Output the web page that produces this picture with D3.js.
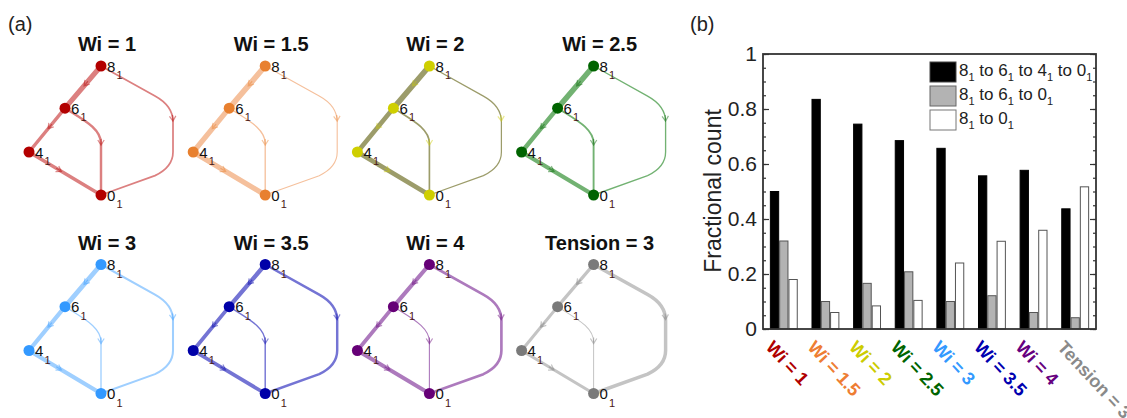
<!DOCTYPE html>
<html><head><meta charset="utf-8">
<script src="https://cdn.jsdelivr.net/npm/d3@7"></script>
<style>html,body{margin:0;padding:0;background:#fff;} svg{display:block;font-family:"Liberation Sans",Arial,sans-serif;}</style>
</head><body><div id="chart"></div>
<script>
// ---------- data ----------
const categories = ["Wi = 1","Wi = 1.5","Wi = 2","Wi = 2.5","Wi = 3","Wi = 3.5","Wi = 4","Tension = 3"];
const path8640 = [0.50,0.835,0.745,0.685,0.657,0.557,0.577,0.437]; // 8_1 to 6_1 to 4_1 to 0_1
const path860  = [0.32,0.10,0.166,0.208,0.10,0.121,0.06,0.041];    // 8_1 to 6_1 to 0_1
const path80   = [0.18,0.06,0.084,0.104,0.24,0.319,0.359,0.517];   // 8_1 to 0_1
const yTicks = [0,0.2,0.4,0.6,0.8,1];
const yTickLabels = ["0","0.2","0.4","0.6","0.8","1"];
const legendLabels = [["8","6","4","0"],["8","6","0"],["8","0"]];
const nodeColors = ["#b30000","#e8802f","#cfcf00","#006400","#3399ff","#0000a8","#660077","#7a7a7a"];
const edgeColors = ["#dc8080","#f5c09c","#9c9c6a","#72b272","#9fcfff","#7474d4","#ad7abd","#c4c4c4"];
const labelColors = ["#b00000","#ee7d33","#cccc00","#006400","#3399ff","#0000b0","#660080","#8a8a8a"];

const W = 1127, H = 418;
const svg = d3.select("#chart").append("svg").attr("width", W).attr("height", H);

// ---------- panel (a): networks ----------
svg.append("text").attr("x", 8).attr("y", 31).attr("font-size", 20).attr("fill", "#222").text("(a)");
svg.append("text").attr("x", 690).attr("y", 31).attr("font-size", 20).attr("fill", "#222").text("(b)");

const ux = d3.scaleLinear().domain([0, 4]).range([29, 173]);
const uy = d3.scaleLinear().domain([0, 3]).range([66, 195]);
const nodes = {"8": [2, 0], "6": [1, 0.98], "4": [0, 2.0], "0": [2, 3]};
const P = k => [ux(nodes[k][0]), uy(nodes[k][1])];

function edgePath(kind) {
  const p = d3.path();
  if (kind === "86" || kind === "64" || kind === "40") {
    const a = P(kind[0]), b = P(kind[1]);
    p.moveTo(a[0], a[1]); p.lineTo(b[0], b[1]);
  } else if (kind === "60") {
    const a = P("6");
    p.moveTo(a[0], a[1]);
    p.bezierCurveTo(ux(1.5), uy(1.25), ux(2), uy(1.45), ux(2), uy(1.8));
    p.lineTo(P("0")[0], P("0")[1]);
  } else {
    const a = P("8");
    p.moveTo(a[0], a[1]);
    p.lineTo(ux(3.5), uy(0.7));
    p.quadraticCurveTo(ux(4), uy(0.93), ux(4), uy(1.3));
    p.lineTo(ux(4), uy(2.0));
    p.quadraticCurveTo(ux(4), uy(2.35), ux(3.5), uy(2.55));
    p.lineTo(P("0")[0], P("0")[1]);
  }
  return p.toString();
}
const arrowFrac = {"86": 0.47, "64": 0.47, "40": 0.45, "60": 0.52, "80": 0.44};

categories.forEach((cat, i) => {
  const col = i % 4, row = Math.floor(i / 4);
  const g = svg.append("g").attr("transform", `translate(${col * 164.2},${row * 198.5})`);
  g.append("text").attr("x", 107).attr("y", 51).attr("text-anchor", "middle")
    .attr("font-size", 20).attr("font-weight", "bold").attr("fill", "#111").text(cat);
  const flows = {"86": path8640[i] + path860[i], "64": path8640[i], "40": path8640[i], "60": path860[i], "80": path80[i]};
  Object.keys(flows).forEach(k => {
    const path = g.append("path").attr("d", edgePath(k)).attr("fill", "none")
      .attr("stroke", edgeColors[i]).attr("stroke-width", 0.8 + 5.2 * flows[k])
      .attr("stroke-linecap", "round").attr("stroke-linejoin", "round");
    const node = path.node();
    const L = node.getTotalLength();
    const s = L * arrowFrac[k];
    const p1 = node.getPointAtLength(s), p0 = node.getPointAtLength(s - 2);
    const ang = Math.atan2(p1.y - p0.y, p1.x - p0.x) * 180 / Math.PI;
    g.append("path").attr("d", "M-5,-3.2L0,0L-5,3.2M0,0L-6,0")
      .attr("transform", `translate(${p1.x},${p1.y}) rotate(${ang})`)
      .attr("fill", "none").attr("stroke", nodeColors[i]).attr("stroke-opacity", 0.45)
      .attr("stroke-width", 1.2);
  });
  Object.keys(nodes).forEach(k => {
    const [cx, cy] = P(k);
    g.append("circle").attr("cx", cx).attr("cy", cy).attr("r", 5.5).attr("fill", nodeColors[i]);
    g.append("text").attr("x", cx + 6).attr("y", cy + 5.5).attr("font-size", 15).attr("fill", "#111").text(k);
    g.append("text").attr("x", cx + 15.5).attr("y", cy + 13).attr("font-size", 11).attr("fill", "#4a1515").text("1");
  });
});

// ---------- panel (b): bar chart ----------
const x = d3.scaleBand().domain(categories).range([763, 1096]).paddingInner(0).paddingOuter(0);
const y = d3.scaleLinear().domain([0, 1]).range([329, 54]);
const bw = x.bandwidth() * 0.67 / 3;
const off = x.bandwidth() * 0.165;

const series = [
  {vals: path8640, fill: "#000", stroke: "#000"},
  {vals: path860, fill: "#b3b3b3", stroke: "#555"},
  {vals: path80, fill: "#fff", stroke: "#555"}
];
series.forEach((s, j) => {
  svg.append("g").selectAll("rect").data(categories).join("rect")
    .attr("x", c => x(c) + off + j * bw + 0.5)
    .attr("y", (c, i) => y(s.vals[i]))
    .attr("width", bw - 1)
    .attr("height", (c, i) => y(0) - y(s.vals[i]))
    .attr("fill", s.fill).attr("stroke", s.stroke).attr("stroke-width", 1);
});

// axes
const minor = d3.range(0, 1.0001, 0.05);
const axL = svg.append("g").attr("transform", "translate(763,0)")
  .call(d3.axisLeft(y).tickValues(yTicks).tickFormat((d, i) => yTickLabels[i]).tickSizeInner(-6).tickSizeOuter(0).tickPadding(6));
svg.append("g").attr("transform", "translate(763,0)")
  .call(d3.axisLeft(y).tickValues(minor).tickFormat("").tickSizeInner(-3).tickSizeOuter(0));
svg.append("g").attr("transform", "translate(1096,0)")
  .call(d3.axisRight(y).tickValues(yTicks).tickFormat("").tickSizeInner(-6).tickSizeOuter(0));
svg.append("g").attr("transform", "translate(1096,0)")
  .call(d3.axisRight(y).tickValues(minor).tickFormat("").tickSizeInner(-3).tickSizeOuter(0));
svg.selectAll(".domain").remove();
svg.selectAll(".tick line").attr("stroke", "#333").attr("stroke-width", 1.2);
axL.selectAll(".tick text").attr("font-size", 21).attr("fill", "#222").attr("font-family", "Liberation Sans, Arial, sans-serif");

svg.append("rect").attr("x", 763).attr("y", 54).attr("width", 333).attr("height", 275)
  .attr("fill", "none").attr("stroke", "#333").attr("stroke-width", 1.8);

svg.append("text").attr("transform", "translate(721,191) rotate(-90)").attr("text-anchor", "middle")
  .attr("font-size", 23).attr("fill", "#222").text("Fractional count");

// x labels
svg.append("g").selectAll("text").data(categories).join("text")
  .attr("transform", c => `translate(${x(c) + 2},348) rotate(47)`)
  .attr("font-size", 18).attr("font-weight", "bold")
  .attr("fill", (c, i) => labelColors[i]).text(c => c);

// legend
const legFills = [["#000", "#444"], ["#b3b3b3", "#666"], ["#fff", "#777"]];
legendLabels.forEach((lab, j) => {
  const ly = 62 + j * 24;
  svg.append("rect").attr("x", 930).attr("y", ly).attr("width", 26).attr("height", 20)
    .attr("fill", legFills[j][0]).attr("stroke", legFills[j][1]).attr("stroke-width", 1);
  const t = svg.append("text").attr("x", 959).attr("y", ly + 14).attr("font-size", 17).attr("fill", "#222");
  lab.forEach((n, k) => {
    t.append("tspan").attr("dy", k === 0 ? 0 : -5).text((k === 0 ? "" : " to ") + n);
    t.append("tspan").attr("dy", 5).attr("font-size", 11).text("1");
  });
});
</script></body></html>
